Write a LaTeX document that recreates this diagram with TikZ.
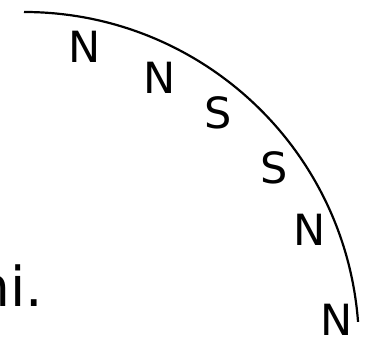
\documentclass[tikz,border=0pt]{standalone}
\usepackage{fontspec}
\setmainfont{DejaVu Sans}
\usetikzlibrary{positioning}

\begin{document}
\begin{tikzpicture}[x=1pt, y=1pt,
    pole/.style={inner sep=0pt, anchor=base, font=\fontsize{43}{43}\selectfont},
    word/.style={inner sep=0pt, anchor=base east, font=\fontsize{55}{55}\selectfont}]
  % Frame (the picture is cut off at its edges)
  \useasboundingbox (0,0) rectangle (365,339);
  \clip (0,0) rectangle (365,339);

  % Quarter arc
  \coordinate (ctr) at (24,-8);
  \def\rad{335}
  \draw[line width=2.2pt] (ctr) ++(90:\rad)
    arc[start angle=90, end angle=4.3, radius=\rad];

  % Poles along the inside of the arc
  \foreach \name/\px/\py/\lbl in {pa/85/276/N, pb/160/245/N, pc/218/210/S,
                                  pd/274/155/S, pe/310/93/N, pf/337/3/N} {
    \node[pole] (\name) at (\px,\py) {\lbl};
  }

  % Fragment of text on the left
  \node[word] (frag) at (43,32) {ni.};
\end{tikzpicture}
\end{document}
